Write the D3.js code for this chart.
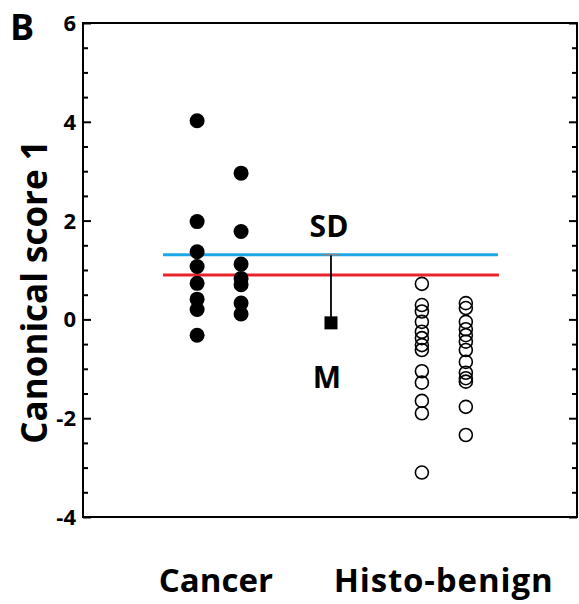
<!DOCTYPE html>
<html>
<head>
<meta charset="utf-8">
<script src="https://cdn.jsdelivr.net/npm/d3@7"></script>
<style>
  html, body { margin: 0; padding: 0; background: #fff; }
  svg { display: block; }
  text { font-family: "Open Sans", "Noto Sans", sans-serif; font-weight: 700; }
</style>
</head>
<body>
<svg id="chart" width="579" height="604"></svg>
<script>
// ---- data ----
const categories = ["Cancer", "Histo-benign"];
const cancerCol1 = [4.02, 1.98, 1.37, 1.07, 0.73, 0.41, 0.20, -0.32];
const cancerCol2 = [2.96, 1.78, 1.12, 0.83, 0.70, 0.33, 0.11];
const benignCol1 = [0.72, 0.29, 0.16, -0.05, -0.25, -0.38, -0.52, -0.62, -1.05, -1.28, -1.65, -1.90, -3.10];
const benignCol2 = [0.33, 0.23, -0.05, -0.20, -0.32, -0.45, -0.62, -0.86, -1.08, -1.19, -1.26, -1.77, -2.34];
const meanValue = -0.07;
const sdValue = 1.31;      // upper end of SD bar (blue line)
const cutoffValue = 0.90;  // red line
const yTicks = [-4, -2, 0, 2, 4, 6];

// ---- layout ----
const svg = d3.select("#chart");
const L = 83, R = 577, T = 23, B = 517;
const y = d3.scaleLinear().domain([-4, 6]).range([B, T]);
const x = d3.scaleLinear().domain([0, 10]).range([L, R]);

// column positions (in x-domain units)
const colX = { c1: 2.31, c2: 3.2, m: 5.02, b1: 6.86, b2: 7.75 };
const catX = [2.69, 7.29];

// horizontal lines
svg.append("line")
  .attr("x1", x(1.62)).attr("x2", x(8.4))
  .attr("y1", y(sdValue)).attr("y2", y(sdValue))
  .attr("stroke", "#1ba6e6").attr("stroke-width", 3);
svg.append("line")
  .attr("x1", x(1.62)).attr("x2", x(8.42))
  .attr("y1", y(cutoffValue)).attr("y2", y(cutoffValue))
  .attr("stroke", "#e8232c").attr("stroke-width", 3);

// cancer points (filled)
function filled(vals, cx) {
  svg.append("g").selectAll("circle").data(vals).join("circle")
    .attr("cx", x(cx)).attr("cy", d => y(d)).attr("r", 7.5)
    .attr("fill", "#000");
}
filled(cancerCol1, colX.c1);
filled(cancerCol2, colX.c2);

// benign points (open)
function open(vals, cx) {
  svg.append("g").selectAll("circle").data(vals).join("circle")
    .attr("cx", x(cx)).attr("cy", d => y(d)).attr("r", 6.5)
    .attr("fill", "none").attr("stroke", "#000").attr("stroke-width", 1.6);
}
open(benignCol1, colX.b1);
open(benignCol2, colX.b2);

// mean & SD bar
svg.append("line")
  .attr("x1", x(colX.m)).attr("x2", x(colX.m))
  .attr("y1", y(meanValue)).attr("y2", y(sdValue))
  .attr("stroke", "#000").attr("stroke-width", 1.8);
svg.append("line")
  .attr("x1", x(colX.m) - 9).attr("x2", x(colX.m) + 9)
  .attr("y1", y(sdValue)).attr("y2", y(sdValue))
  .attr("stroke", "#888").attr("stroke-width", 1.5);
svg.append("rect")
  .attr("x", x(colX.m) - 6.5).attr("y", y(meanValue) - 6.5)
  .attr("width", 13).attr("height", 13).attr("fill", "#000");
svg.append("text").attr("x", x(colX.m) - 2).attr("y", y(sdValue) - 18)
  .attr("text-anchor", "middle").attr("font-size", 30).text("SD");
svg.append("text").attr("x", x(colX.m) - 4).attr("y", y(meanValue) + 65)
  .attr("text-anchor", "middle").attr("font-size", 30).text("M");

// frame
svg.append("rect").attr("x", L).attr("y", T).attr("width", R - L).attr("height", B - T)
  .attr("fill", "none").attr("stroke", "#000").attr("stroke-width", 2);

// ticks (left & right, inward)
const minor = d3.range(-4, 6.01, 0.5).filter(v => !yTicks.includes(v));
const gl = svg.append("g").attr("transform", `translate(${L},0)`)
  .call(d3.axisRight(y).tickValues(yTicks).tickSize(8).tickFormat(""));
const gl2 = svg.append("g").attr("transform", `translate(${L},0)`)
  .call(d3.axisRight(y).tickValues(minor).tickSize(5).tickFormat(""));
const gr = svg.append("g").attr("transform", `translate(${R},0)`)
  .call(d3.axisLeft(y).tickValues(yTicks).tickSize(8).tickFormat(""));
const gr2 = svg.append("g").attr("transform", `translate(${R},0)`)
  .call(d3.axisLeft(y).tickValues(minor).tickSize(5).tickFormat(""));
[gl, gl2, gr, gr2].forEach(g => {
  g.select(".domain").remove();
  g.selectAll("line").attr("stroke", "#000").attr("stroke-width", 2);
});

// tick labels
svg.append("g").selectAll("text").data(yTicks).join("text")
  .attr("x", L - 7).attr("y", d => y(d)).attr("dy", "0.36em")
  .attr("text-anchor", "end").attr("font-size", 22).text(d => d);

// y-axis title
svg.append("text")
  .attr("transform", `translate(47,${(T + B) / 2 + 22}) rotate(-90)`)
  .attr("text-anchor", "middle").attr("font-size", 35)
  .text("Canonical score 1");

// category labels
svg.append("text").attr("x", x(catX[0])).attr("y", 592)
  .attr("text-anchor", "middle").attr("font-size", 33).text(categories[0]);
svg.append("text").attr("x", x(catX[1])).attr("y", 592)
  .attr("text-anchor", "middle").attr("font-size", 33)
  .attr("textLength", 219).attr("lengthAdjust", "spacing").text(categories[1]);

// panel letter
svg.append("text").attr("x", 10).attr("y", 40).attr("font-size", 36).text("B");
</script>
</body>
</html>
